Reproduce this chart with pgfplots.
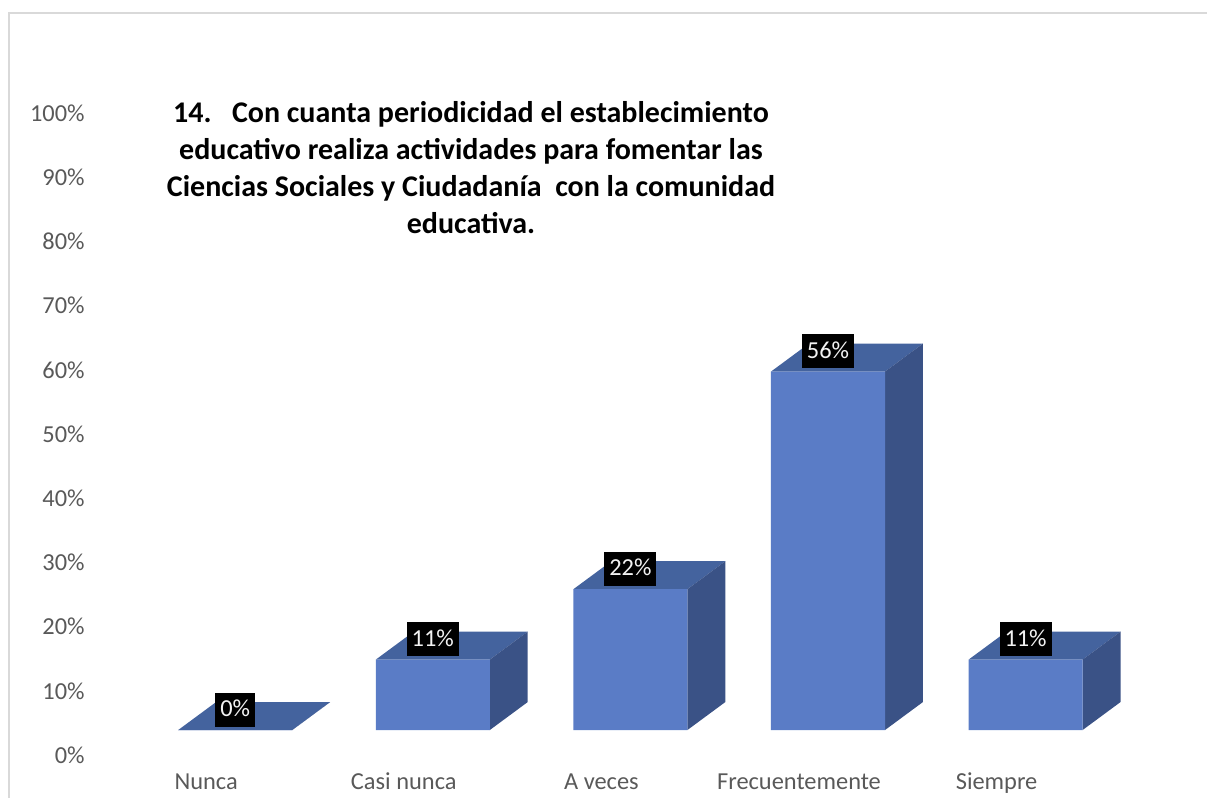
\documentclass[border=0pt]{standalone}
\usepackage{fontspec}
\setmainfont{Carlito}
\usepackage{pgfplots}
\pgfplotsset{compat=1.18}

\definecolor{frontc}{HTML}{5A7CC6}
\definecolor{topc}{HTML}{44639E}
\definecolor{sidec}{HTML}{3A5286}
\definecolor{ticktxt}{HTML}{595959}
\definecolor{framec}{HTML}{D9D9D9}

% top and side faces of a 3D bar: #1 = category, #2 = value
\newcommand{\cubefaces}[2]{%
  \pgfmathsetmacro{\xa}{#1-0.2885}%
  \pgfmathsetmacro{\xb}{#1+0.2885}%
  \pgfmathsetmacro{\xc}{#1+0.2885+0.192}%
  \pgfmathsetmacro{\xd}{#1-0.2885+0.192}%
  \pgfmathsetmacro{\yt}{#2+4.375}%
  \edef\temp{%
    \noexpand\addplot[fill=topc, draw=none, forget plot] coordinates {(\xa,#2) (\xb,#2) (\xc,\yt) (\xd,\yt)};
    \noexpand\addplot[fill=sidec, draw=none, forget plot] coordinates {(\xb,0) (\xb,#2) (\xc,\yt) (\xc,4.375)};
  }\temp
}

\begin{document}
\begin{tikzpicture}
\useasboundingbox (-43.5pt,-21.5pt) rectangle (560pt,377.5pt);
\draw[framec, line width=0.8pt] (-39pt,-21.5pt) -- (-39pt,371pt) -- (560pt,371pt);
\begin{axis}[
    at={(0,0)}, anchor=south west,
    scale only axis,
    width=543.4pt, height=321pt,
    xmin=-0.75, xmax=4.75,
    ymin=-3.9, ymax=96.4,
    clip=false,
    axis line style={draw=none},
    major tick length=0pt,
    xtick={0,1,2,3,4},
    xticklabels={Nunca,Casi nunca,A veces,Frecuentemente,Siempre},
    ytick={-3.9,6.13,16.16,26.19,36.22,46.25,56.28,66.31,76.34,86.37,96.4},
    yticklabels={0\%,10\%,20\%,30\%,40\%,50\%,60\%,70\%,80\%,90\%,100\%},
    tick label style={font=\fontsize{12.2}{14}\selectfont, text=ticktxt},
    xticklabel style={anchor=north, inner sep=0pt, text height=8.5pt, text depth=2.5pt,
        yshift=-8.5pt, xshift=-14.5pt},
    yticklabel style={anchor=east, inner sep=0pt, xshift=-1pt},
    /pgf/number format/assume math mode=true,
]
\cubefaces{0}{0}
\cubefaces{1}{11}
\cubefaces{2}{22}
\cubefaces{3}{56}
\cubefaces{4}{11}
\addplot[ybar, bar width=0.577, fill=frontc, draw=none,
    nodes near coords={\pgfmathprintnumber{\pgfplotspointmeta}\%},
    every node near coord/.append style={anchor=south, fill=black, text=white!95!black,
        inner sep=2.5pt, yshift=1.5pt, font=\fontsize{12.2}{14}\selectfont,
        text height=9.5pt, text depth=2.5pt}]
    coordinates {(0,0) (1,11) (2,22) (3,56) (4,11)};
\end{axis}
\node[font=\fontsize{15}{18.5}\selectfont\bfseries, align=center, text=black]
    at (192pt,293.5pt)
    {14.\ \ \ Con cuanta periodicidad el establecimiento\\
     educativo realiza actividades para fomentar las\\
     Ciencias Sociales y Ciudadanía\ \ con la comunidad\\
     educativa.};
\end{tikzpicture}
\end{document}
